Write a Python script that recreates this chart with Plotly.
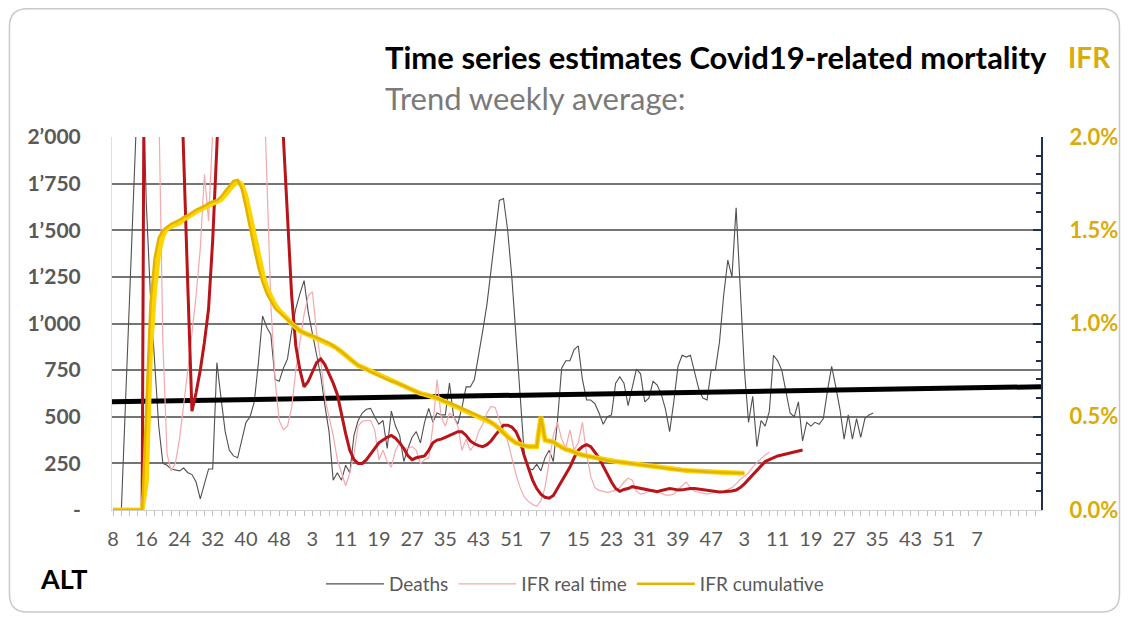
import plotly.graph_objects as go

# ---------------- DATA ----------------
# weekly deaths (left axis), starting at week index 2 (2020 W10)
deaths_start = 2
deaths = [0, 560, 1120, 1680, 2300, 2500, 1650, 1150, 810, 450,
          250, 240, 220, 215, 210, 225, 200, 190, 150, 60,
          140, 220, 220, 790, 600, 420, 320, 290, 280, 370,
          470, 500, 580, 790, 1040, 980, 940, 700, 690, 760,
          810, 960, 1080, 1160, 1230, 1060, 940, 840, 720, 560,
          420, 160, 200, 160, 240, 200, 400, 480, 520, 540,
          545, 500, 460, 480, 330, 530, 450, 400, 260, 330,
          390, 420, 360, 470, 545, 470, 520, 510, 510, 680,
          500, 460, 550, 660, 660, 700, 820, 960, 1100, 1280,
          1480, 1660, 1670, 1500, 1250, 950, 620, 300, 225, 215,
          245, 210, 280, 320, 260, 480, 760, 800, 800, 860,
          880, 700, 590, 590, 570, 520, 460, 500, 510, 680,
          715, 680, 560, 660, 755, 730, 580, 600, 690, 670,
          620, 540, 420, 580, 770, 830, 820, 830, 740, 650,
          600, 590, 750, 750, 900, 1150, 1340, 1250, 1620, 1180,
          750, 470, 610, 340, 480, 450, 530, 830, 800, 750,
          640, 520, 500, 580, 370, 470, 450, 470, 460, 490,
          640, 770, 660, 540, 380, 510, 380, 490, 390, 490,
          510, 520]

# linear trend of deaths (start / end of the axis)
deaths_trend = [580, 661]

# IFR real time, % (right axis), from week index 0
ifr_real_time = [0, 0, 0, 0, 0, 0, 0, 0, 5, 5,
                 4, 2.2, 0.9, 0.3, 0.21, 0.25, 0.38, 0.55, 0.75, 0.95,
                 1.15, 1.4, 1.8, 1.55, 2.3, 3, 3, 3, 3, 3,
                 3, 3, 3, 3, 3, 3, 2.5, 1.75, 1.1, 0.7,
                 0.48, 0.43, 0.45, 0.55, 0.75, 0.9, 1.05, 1.15, 1.17, 0.95,
                 0.8, 0.6, 0.5, 0.4, 0.27, 0.2, 0.13, 0.2, 0.3, 0.45,
                 0.475, 0.48, 0.48, 0.43, 0.27, 0.32, 0.26, 0.23, 0.32, 0.36,
                 0.33, 0.33, 0.34, 0.32, 0.25, 0.27, 0.28, 0.45, 0.7, 0.5,
                 0.45, 0.52, 0.5, 0.45, 0.32, 0.38, 0.32, 0.35, 0.42, 0.46,
                 0.52, 0.555, 0.55, 0.48, 0.43, 0.37, 0.28, 0.19, 0.12, 0.07,
                 0.045, 0.03, 0.02, 0.05, 0.12, 0.25, 0.4, 0.47, 0.38, 0.33,
                 0.43, 0.32, 0.36, 0.47, 0.3, 0.18, 0.12, 0.105, 0.1, 0.095,
                 0.1, 0.105, 0.12, 0.15, 0.17, 0.16, 0.1, 0.085, 0.09, 0.1,
                 0.11, 0.1, 0.09, 0.08, 0.08, 0.085, 0.11, 0.13, 0.15, 0.12,
                 0.1, 0.095, 0.09, 0.085, 0.09, 0.095, 0.1, 0.1, 0.11, 0.12,
                 0.14, 0.165, 0.18, 0.2, 0.23, 0.255, 0.275, 0.295, 0.31]

# IFR real time, weekly-average trend, % (right axis)
ifr_real_trend = [0, 0, 0, 0, 0, 0, 0, 0, 5, 5,
                  5, 5, 5, 5, 5, 5, 2.6, 1.85, 1.2, 0.53,
                  0.63, 0.75, 0.9, 1.08, 1.45, 1.95, 3, 3, 3, 3,
                  3, 3, 3, 3, 3, 3, 3, 3, 3, 3,
                  3, 2.0, 1.55, 1.15, 0.88, 0.75, 0.66, 0.69, 0.74, 0.79,
                  0.81, 0.78, 0.73, 0.68, 0.62, 0.51, 0.41, 0.32, 0.27, 0.25,
                  0.25, 0.27, 0.3, 0.33, 0.36, 0.375, 0.39, 0.4, 0.385, 0.36,
                  0.33, 0.29, 0.27, 0.28, 0.285, 0.29, 0.32, 0.36, 0.375, 0.38,
                  0.39, 0.4, 0.41, 0.42, 0.42, 0.4, 0.37, 0.355, 0.345, 0.34,
                  0.35, 0.37, 0.4, 0.43, 0.455, 0.455, 0.445, 0.42, 0.37, 0.29,
                  0.22, 0.16, 0.115, 0.085, 0.068, 0.063, 0.078, 0.115, 0.155, 0.19,
                  0.23, 0.28, 0.32, 0.34, 0.35, 0.34, 0.31, 0.28, 0.235, 0.19,
                  0.15, 0.115, 0.1, 0.11, 0.115, 0.125, 0.12, 0.115, 0.11, 0.107,
                  0.1, 0.098, 0.105, 0.11, 0.115, 0.112, 0.107, 0.108, 0.112, 0.115,
                  0.115, 0.112, 0.11, 0.107, 0.103, 0.098, 0.097, 0.098, 0.098, 0.102,
                  0.107, 0.12, 0.14, 0.165, 0.19, 0.215, 0.24, 0.26, 0.27, 0.28,
                  0.29, 0.295, 0.3, 0.305, 0.31, 0.318, 0.322]

# IFR cumulative, weekly-average trend, % (bright yellow)
ifr_cum_trend = [0, 0, 0, 0, 0, 0, 0, 0, 0.15, 0.85,
                 1.18, 1.38, 1.47, 1.51, 1.52, 1.53, 1.54, 1.56, 1.57, 1.585,
                 1.6, 1.61, 1.62, 1.635, 1.645, 1.65, 1.665, 1.69, 1.72, 1.745,
                 1.76, 1.745, 1.68, 1.57, 1.46, 1.36, 1.27, 1.19, 1.14, 1.1,
                 1.07, 1.05, 1.025, 1.0, 0.98, 0.96, 0.95, 0.94, 0.935, 0.925,
                 0.915, 0.905, 0.895, 0.88, 0.865, 0.85, 0.83, 0.81, 0.79, 0.775,
                 0.765, 0.755, 0.74, 0.73, 0.72, 0.71, 0.7, 0.69, 0.685, 0.675,
                 0.665, 0.655, 0.645, 0.635, 0.625, 0.62, 0.615, 0.61, 0.6, 0.59,
                 0.58, 0.575, 0.565, 0.555, 0.545, 0.535, 0.525, 0.515, 0.505, 0.495,
                 0.485, 0.47, 0.455, 0.435, 0.41, 0.39, 0.375, 0.36, 0.35, 0.345,
                 0.34, 0.34, 0.34, 0.5, 0.375, 0.37, 0.365, 0.35, 0.335, 0.325,
                 0.32, 0.31, 0.3, 0.295, 0.29, 0.285, 0.28, 0.275, 0.27, 0.265,
                 0.262, 0.26, 0.257, 0.254, 0.25, 0.246, 0.242, 0.238, 0.235, 0.232,
                 0.23, 0.227, 0.225, 0.222, 0.22, 0.218, 0.216, 0.214, 0.212, 0.21,
                 0.209, 0.208, 0.206, 0.205, 0.204, 0.203, 0.202, 0.201, 0.2, 0.199,
                 0.198, 0.197, 0.197]

# IFR cumulative, % (gold, legend entry)
ifr_cumulative = [0, 0, 0, 0, 0, 0, 0, 0, 0.55, 1.1,
                  1.35, 1.46, 1.5, 1.52, 1.535, 1.545, 1.555, 1.57, 1.58, 1.595,
                  1.61, 1.62, 1.63, 1.645, 1.655, 1.66, 1.68, 1.71, 1.74, 1.765,
                  1.77, 1.72, 1.62, 1.5, 1.4, 1.3, 1.22, 1.16, 1.12, 1.08,
                  1.06, 1.04, 1.02, 0.995, 0.975, 0.96, 0.95, 0.94, 0.935, 0.925,
                  0.915, 0.905, 0.895, 0.88, 0.865, 0.85, 0.83, 0.81, 0.79, 0.775,
                  0.765, 0.755, 0.74, 0.73, 0.72, 0.71, 0.7, 0.69, 0.685, 0.675,
                  0.665, 0.655, 0.645, 0.635, 0.625, 0.62, 0.615, 0.61, 0.6, 0.59,
                  0.58, 0.575, 0.565, 0.555, 0.545, 0.535, 0.525, 0.515, 0.505, 0.495,
                  0.485, 0.47, 0.455, 0.435, 0.41, 0.39, 0.375, 0.36, 0.35, 0.345,
                  0.34, 0.34, 0.34, 0.5, 0.375, 0.37, 0.365, 0.35, 0.335, 0.325,
                  0.32, 0.31, 0.3, 0.295, 0.29, 0.285, 0.28, 0.275, 0.27, 0.265,
                  0.262, 0.26, 0.257, 0.254, 0.25, 0.246, 0.242, 0.238, 0.235, 0.232,
                  0.23, 0.227, 0.225, 0.222, 0.22, 0.218, 0.216, 0.214, 0.212, 0.21,
                  0.209, 0.208, 0.206, 0.205, 0.204, 0.203, 0.202, 0.201, 0.2, 0.199,
                  0.198, 0.197, 0.197]

# x axis: ISO week labels every 8 weeks
week_tick_labels = ["8", "16", "24", "32", "40", "48", "3", "11", "19", "27",
                    "35", "43", "51", "7", "15", "23", "31", "39", "47", "3",
                    "11", "19", "27", "35", "43", "51", "7"]
left_tick_values = [0, 250, 500, 750, 1000, 1250, 1500, 1750, 2000]
left_tick_labels = ["-", "250", "500", "750", "1\u2019000", "1\u2019250",
                    "1\u2019500", "1\u2019750", "2\u2019000"]
right_tick_values = [0, 0.5, 1.0, 1.5, 2.0]
right_tick_labels = ["0.0%", "0.5%", "1.0%", "1.5%", "2.0%"]

# ---------------- LAYOUT HELPERS ----------------
# the page body has an 8px margin, so the figure starts at screen (8, 8)
OFF = 8
W, H = 1130 - OFF, 617 - OFF
L, R, T, B = 112, 1047, 137, 510          # plot area in screen pixels
X_MIN, X_MAX = -0.25, 223.4


def px2x(px):
    return (px - L) / (R - L)


def py2y(py):
    return (B - py) / (B - T)


deaths_x = list(range(deaths_start, deaths_start + len(deaths)))
rt_x = list(range(len(ifr_real_time)))
rtt_x = list(range(len(ifr_real_trend)))
cum_x = list(range(len(ifr_cumulative)))
cumt_x = list(range(len(ifr_cum_trend)))
tick_pos = [8 * k for k in range(len(week_tick_labels))]

GOLD_TXT = "#D9AC0B"
FONT = "Lato"

fig = go.Figure()

fig.add_trace(go.Scatter(x=deaths_x, y=deaths, mode="lines", name="Deaths",
                         line=dict(color="#505050", width=1.1), yaxis="y"))
fig.add_trace(go.Scatter(x=[X_MIN, X_MAX], y=deaths_trend, mode="lines",
                         showlegend=False, line=dict(color="#000000", width=5),
                         yaxis="y"))
fig.add_trace(go.Scatter(x=rt_x, y=ifr_real_time, mode="lines", name="IFR real time",
                         line=dict(color="#F4A9AE", width=1.2), yaxis="y2"))
fig.add_trace(go.Scatter(x=rtt_x, y=ifr_real_trend, mode="lines", showlegend=False,
                         line=dict(color="#B8141A", width=3), yaxis="y2"))
fig.add_trace(go.Scatter(x=cumt_x, y=ifr_cum_trend, mode="lines", showlegend=False,
                         line=dict(color="#FFD400", width=5), yaxis="y2"))
fig.add_trace(go.Scatter(x=cum_x, y=ifr_cumulative, mode="lines", name="IFR cumulative",
                         line=dict(color="#E2B400", width=2.5), yaxis="y2"))

# rounded border of the image card (screen px -> paper)
rad_x, rad_y = 18 / (R - L), 18 / (B - T)
bx0, bx1 = px2x(8.8), px2x(1126)
by0, by1 = py2y(612), py2y(8.8)
border_path = (f"M {bx0 + rad_x} {by1} L {bx1 - rad_x} {by1} Q {bx1} {by1} {bx1} {by1 - rad_y} "
               f"L {bx1} {by0 + rad_y} Q {bx1} {by0} {bx1 - rad_x} {by0} "
               f"L {bx0 + rad_x} {by0} Q {bx0} {by0} {bx0} {by0 + rad_y} "
               f"L {bx0} {by1 - rad_y} Q {bx0} {by1} {bx0 + rad_x} {by1} Z")

fig.update_layout(
    width=W, height=H,
    margin=dict(l=L - OFF, r=W - (R - OFF), t=T - OFF, b=H - (B - OFF), pad=0),
    paper_bgcolor="white", plot_bgcolor="white",
    font=dict(family=FONT, color="#595959"),
    showlegend=True,
    legend=dict(orientation="h", x=px2x(578), xanchor="center", y=py2y(584),
                yanchor="middle", font=dict(size=19, color="#595959"),
                bgcolor="rgba(0,0,0,0)", itemwidth=58),
    xaxis=dict(range=[X_MIN, X_MAX], tickmode="array", tickvals=tick_pos,
               ticktext=week_tick_labels, showgrid=False, zeroline=False,
               showline=True, linecolor="#d0d0d0", linewidth=1,
               ticks="outside", ticklen=5, tickcolor="#c0c0c0",
               tickfont=dict(size=20, color="#595959", family=FONT),
               ticklabelstandoff=6,
               minor=dict(tickmode="linear", tick0=0, dtick=2, ticks="outside",
                          ticklen=5, tickcolor="#c0c0c0")),
    yaxis=dict(range=[0, 2000], tickmode="array", tickvals=left_tick_values,
               ticktext=left_tick_labels, showgrid=True, gridcolor="#757575",
               gridwidth=1.7, zeroline=False, showline=True, linecolor="#e0e0e0",
               ticks="", ticklabelstandoff=26,
               tickfont=dict(size=21, color="#595959", family=FONT, weight="bold")),
    yaxis2=dict(range=[0, 2.0], overlaying="y", side="right", tickmode="array",
                tickvals=right_tick_values, ticktext=right_tick_labels,
                showgrid=False, zeroline=False, showline=True, linecolor="#1F3050",
                linewidth=2, ticks="inside", ticklen=8, tickwidth=2,
                tickcolor="#1F3050", ticklabelstandoff=22,
                tickfont=dict(size=22, color=GOLD_TXT, family=FONT, weight="bold"),
                minor=dict(tickmode="linear", tick0=0, dtick=0.1, ticks="inside",
                           ticklen=5, tickwidth=1.5, tickcolor="#1F3050")),
    shapes=[dict(type="path", xref="paper", yref="paper", path=border_path,
                 line=dict(color="#c9c9c9", width=1.5), layer="below")],
    annotations=[
        dict(text="<b>Time series estimates Covid19-related mortality</b>",
             x=px2x(385), y=py2y(57), xref="paper", yref="paper",
             xanchor="left", yanchor="middle", showarrow=False,
             font=dict(size=31, color="#000000", family=FONT)),
        dict(text="<b>IFR</b>", x=px2x(1072), y=py2y(57), xref="paper", yref="paper",
             xanchor="left", yanchor="middle", showarrow=False,
             font=dict(size=28, color=GOLD_TXT, family=FONT)),
        dict(text="Trend weekly average:", x=px2x(385), y=py2y(98),
             xref="paper", yref="paper", xanchor="left", yanchor="middle",
             showarrow=False, font=dict(size=31, color="#7a7a7a", family=FONT)),
        dict(text="<b>ALT</b>", x=px2x(38), y=py2y(578), xref="paper", yref="paper",
             xanchor="left", yanchor="middle", showarrow=False,
             font=dict(size=27, color="#000000", family=FONT)),
    ],
)

fig.write_html("out.html")
